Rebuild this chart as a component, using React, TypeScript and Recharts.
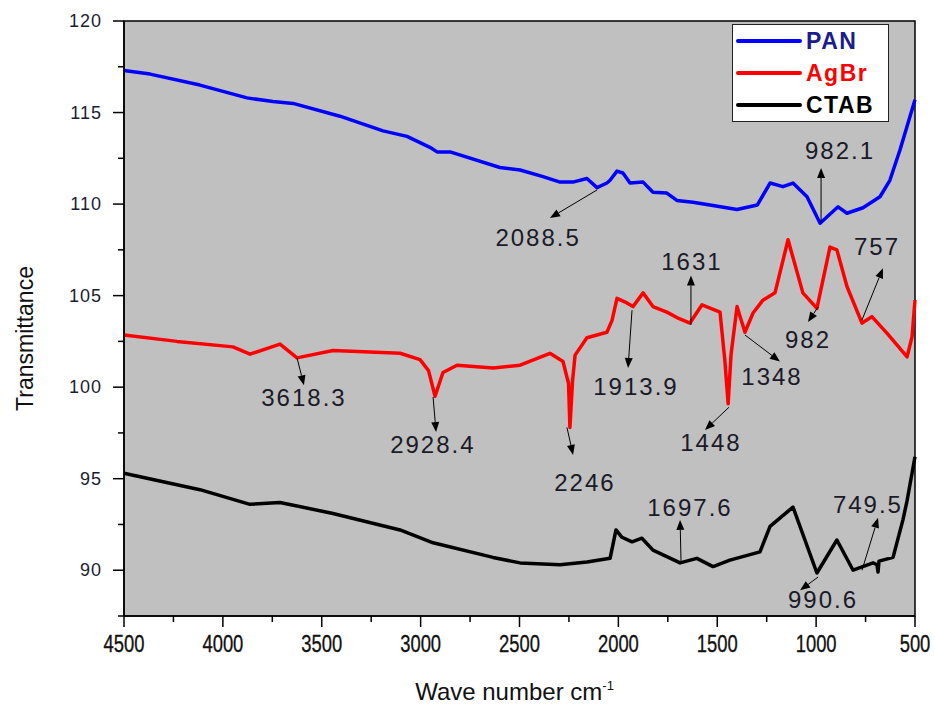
import React from "react"
import {
  LineChart,
  Line,
  XAxis,
  YAxis,
  CartesianGrid,
  ReferenceArea,
  ReferenceLine,
  ReferenceDot,
  Legend,
} from "recharts"

// wave numbers (cm-1) and transmittance
const panWave = [4500, 4368, 4116, 3878, 3747, 3645, 3408, 3190, 3069, 2953, 2917, 2851, 2599, 2497, 2381, 2295, 2230, 2159, 2108, 2058, 2042, 2007, 1977, 1941, 1875, 1825, 1755, 1704, 1623, 1537, 1400, 1297, 1233, 1168, 1117, 1046, 980, 889, 844, 763, 677, 627, 576, 500]
const panValues = [117.3, 117.1, 116.5, 115.8, 115.6, 115.5, 114.8, 114.0, 113.7, 113.1, 112.85, 112.85, 112.0, 111.86, 111.5, 111.2, 111.2, 111.4, 110.9, 111.15, 111.3, 111.8, 111.7, 111.15, 111.2, 110.65, 110.6, 110.2, 110.1, 109.95, 109.7, 109.95, 111.15, 110.95, 111.15, 110.4, 108.95, 109.85, 109.5, 109.8, 110.4, 111.3, 112.95, 115.7]

const agbrWave = [4500, 4232, 3949, 3863, 3711, 3625, 3443, 3104, 3003, 2960, 2927, 2887, 2816, 2634, 2497, 2346, 2280, 2252, 2245, 2232, 2219, 2159, 2058, 2032, 2007, 1957, 1926, 1875, 1825, 1755, 1704, 1638, 1577, 1486, 1462, 1445, 1430, 1400, 1360, 1319, 1269, 1208, 1142, 1067, 996, 930, 895, 844, 768, 718, 642, 540, 515, 500]
const agbrValues = [102.85, 102.5, 102.2, 101.8, 102.35, 101.6, 102.0, 101.85, 101.5, 100.9, 99.5, 100.8, 101.2, 101.05, 101.2, 101.85, 101.4, 100.2, 97.8, 100.3, 101.75, 102.7, 103.0, 103.65, 104.85, 104.6, 104.4, 105.15, 104.4, 104.1, 103.8, 103.5, 104.5, 104.1, 101.5, 99.1, 101.8, 104.4, 103.0, 104.05, 104.75, 105.15, 108.05, 105.15, 104.3, 107.65, 107.5, 105.5, 103.5, 103.85, 102.95, 101.65, 102.75, 104.75]

const ctabWave = [4500, 4116, 3863, 3711, 3443, 3104, 2937, 2634, 2497, 2295, 2159, 2042, 2012, 1982, 1931, 1881, 1825, 1688, 1603, 1521, 1436, 1284, 1233, 1117, 996, 895, 813, 712, 692, 687, 682, 611, 561, 540, 500]
const ctabValues = [95.3, 94.4, 93.6, 93.7, 93.1, 92.2, 91.5, 90.7, 90.4, 90.3, 90.45, 90.65, 92.2, 91.8, 91.55, 91.75, 91.1, 90.4, 90.65, 90.2, 90.55, 91.0, 92.4, 93.45, 89.85, 91.65, 90.0, 90.4, 90.3, 89.9, 90.5, 90.7, 92.75, 93.8, 96.2]

const seriesNames = ["PAN", "AgBr", "CTAB"]
const seriesColors = ["#0000ff", "#ff0000", "#000000"]
const legendTextColors = ["#1c1c8c", "#ff0000", "#000000"]

const xTicks = [4500, 4250, 4000, 3750, 3500, 3250, 3000, 2750, 2500, 2250, 2000, 1750, 1500, 1250, 1000, 750, 500]
const yTicks = [87.5, 90, 92.5, 95, 97.5, 100, 102.5, 105, 107.5, 110, 112.5, 115, 117.5, 120]

// peak labels: text, label anchor, arrow tail -> arrow head (data coords)
const peakLabels = ["2088.5", "982.1", "1631", "757", "982", "3618.3", "2928.4", "2246", "1913.9", "1348", "1448", "1697.6", "990.6", "749.5"]
const labelPos: Array<[number, number]> = [[2406, 108.15], [879, 112.9], [1628, 106.84], [692, 107.65], [1041, 102.6], [3590, 99.4], [2938, 96.84], [2169, 94.77], [1911, 100.0], [1223, 100.56], [1532, 96.95], [1638, 93.4], [965, 88.38], [738, 93.57]]
const arrowTail: Array<[number, number]> = [[2108, 110.77], [975, 109.0], [1633, 103.4], [768, 103.67], [990, 104.38], [3625, 101.6], [2937, 99.46], [2260, 97.8], [1931, 104.2], [1360, 102.85], [1441, 98.9], [1683, 90.4], [990, 89.63], [768, 90.0]]
const arrowHead: Array<[number, number]> = [[2346, 109.24], [975, 111.97], [1633, 106.1], [662, 106.5], [1041, 103.56], [3590, 100.1], [2922, 97.55], [2229, 96.3], [1951, 101.05], [1183, 101.4], [1562, 97.66], [1688, 92.75], [1081, 88.9], [687, 92.86]]

const toPoints = (w: number[], v: number[]) => w.map((x, i) => ({ w: x, v: v[i] }))
const seriesData = [toPoints(panWave, panValues), toPoints(agbrWave, agbrValues), toPoints(ctabWave, ctabValues)]

const FONT = "Arial, 'Liberation Sans', sans-serif"

function XTick(props: any) {
  const { x, y, payload } = props
  const major = payload.value % 500 === 0
  return (
    <g>
      <line x1={x} y1={y} x2={x} y2={y + (major ? 11 : 6)} stroke="#000" strokeWidth={1.5} />
      {major && (
        <text
          x={0}
          y={0}
          transform={`translate(${x},${y + 36}) scale(0.8,1.05)`}
          textAnchor="middle"
          fontFamily={FONT}
          fontSize={23}
          fill="#111"
          stroke="#111"
          strokeWidth={0.3}
        >
          {payload.value}
        </text>
      )}
    </g>
  )
}

function YTick(props: any) {
  const { x, y, payload } = props
  const major = payload.value % 5 === 0
  return (
    <g>
      <line x1={x} y1={y} x2={x - (major ? 11 : 6)} y2={y} stroke="#000" strokeWidth={1.5} />
      {major && (
        <text x={x - 22} y={y + 6} textAnchor="end" fontFamily={FONT} fontSize={18} fill="#1c1c30" letterSpacing={1}>
          {payload.value}
        </text>
      )}
    </g>
  )
}

function Arrow(props: any) {
  const { x1, y1, x2, y2 } = props
  if ([x1, y1, x2, y2].some((n) => typeof n !== "number")) return null
  const dx = x2 - x1
  const dy = y2 - y1
  const len = Math.hypot(dx, dy) || 1
  const ux = dx / len
  const uy = dy / len
  const hl = 10
  const hw = 4
  const bx = x2 - ux * hl
  const by = y2 - uy * hl
  return (
    <g>
      <line x1={x1} y1={y1} x2={bx} y2={by} stroke="#000" strokeWidth={1} />
      <polygon
        points={`${x2},${y2} ${bx - uy * hw},${by + ux * hw} ${bx + uy * hw},${by - ux * hw}`}
        fill="#000"
      />
    </g>
  )
}

function PeakText(text: string) {
  return (props: any) => (
    <text
      x={props.cx}
      y={props.cy + 8}
      textAnchor="middle"
      fontFamily={FONT}
      fontSize={24}
      letterSpacing={2}
      fill="#1a1a28"
    >
      {text}
    </text>
  )
}

function LegendBox() {
  return (
    <div style={{ width: 157, height: 98, background: "#fff", border: "1.5px solid #222", boxSizing: "border-box" }}>
      {seriesNames.map((name, i) => (
        <div key={name} style={{ display: "flex", alignItems: "center", height: 32, paddingLeft: 3 }}>
          <div style={{ width: 66, height: 4, background: seriesColors[i], borderRadius: 2 }} />
          <span
            style={{
              marginLeft: 4,
              fontFamily: FONT,
              fontWeight: "bold",
              fontSize: 23,
              letterSpacing: 1.5,
              lineHeight: "32px",
              color: legendTextColors[i],
            }}
          >
            {name}
          </span>
        </div>
      ))}
    </div>
  )
}

export default function App() {
  return (
    <div style={{ position: "absolute", left: 0, top: 0, width: 935, height: 704, background: "#fff" }}>
      <LineChart width={935} height={704} margin={{ top: 21, right: 20, bottom: 0, left: 0 }}>
        <CartesianGrid fill="#c0c0c0" horizontal={false} vertical={false} />
        <XAxis
          dataKey="w"
          type="number"
          domain={[500, 4500]}
          reversed
          ticks={xTicks}
          interval={0}
          height={88}
          tickSize={0}
          tickMargin={0}
          tickLine={false}
          axisLine={{ stroke: "#000", strokeWidth: 1.5 }}
          tick={<XTick />}
          label={(p: any) => {
            const vb = p.viewBox
            const cx = vb.x + vb.width / 2
            return (
              <text x={cx - 5} y={700} textAnchor="middle" fontFamily={FONT} fontSize={24} fill="#111">
                Wave number cm
                <tspan dy={-10} fontSize={13}>-1</tspan>
              </text>
            )
          }}
        />
        <YAxis
          type="number"
          domain={[87.5, 120]}
          ticks={yTicks}
          interval={0}
          width={124}
          tickSize={0}
          tickMargin={0}
          tickLine={false}
          axisLine={{ stroke: "#000", strokeWidth: 1.5 }}
          tick={<YTick />}
          allowDataOverflow
          label={(p: any) => {
            const vb = p.viewBox
            const cy = vb.y + vb.height / 2
            return (
              <text
                x={0}
                y={0}
                transform={`translate(33,${cy + 20}) rotate(-90)`}
                textAnchor="middle"
                fontFamily={FONT}
                fontSize={23}
                fill="#111"
              >
                Transmittance
              </text>
            )
          }}
        />
        <ReferenceArea x1={4500} x2={500} y1={87.5} y2={120} fill="none" fillOpacity={0} stroke="#000" strokeWidth={1.5} />
        {seriesNames.map((name, i) => (
          <Line
            key={name}
            name={name}
            data={seriesData[i]}
            dataKey="v"
            type="linear"
            stroke={seriesColors[i]}
            strokeWidth={3.5}
            strokeLinejoin="round"
            dot={false}
            isAnimationActive={false}
          />
        ))}
        {peakLabels.map((t, i) => (
          <ReferenceLine
            key={"a" + t}
            segment={[
              { x: arrowTail[i][0], y: arrowTail[i][1] },
              { x: arrowHead[i][0], y: arrowHead[i][1] },
            ]}
            shape={(p: any) => <Arrow {...p} />}
          />
        ))}
        {peakLabels.map((t, i) => (
          <ReferenceDot key={"t" + t} x={labelPos[i][0]} y={labelPos[i][1]} r={0} shape={PeakText(t)} />
        ))}
        <Legend
          layout="horizontal"
          verticalAlign="middle"
          align="center"
          wrapperStyle={{ position: "absolute", left: 732, top: 24, width: 157, height: 98 }}
          content={() => <LegendBox />}
        />
      </LineChart>
    </div>
  )
}
